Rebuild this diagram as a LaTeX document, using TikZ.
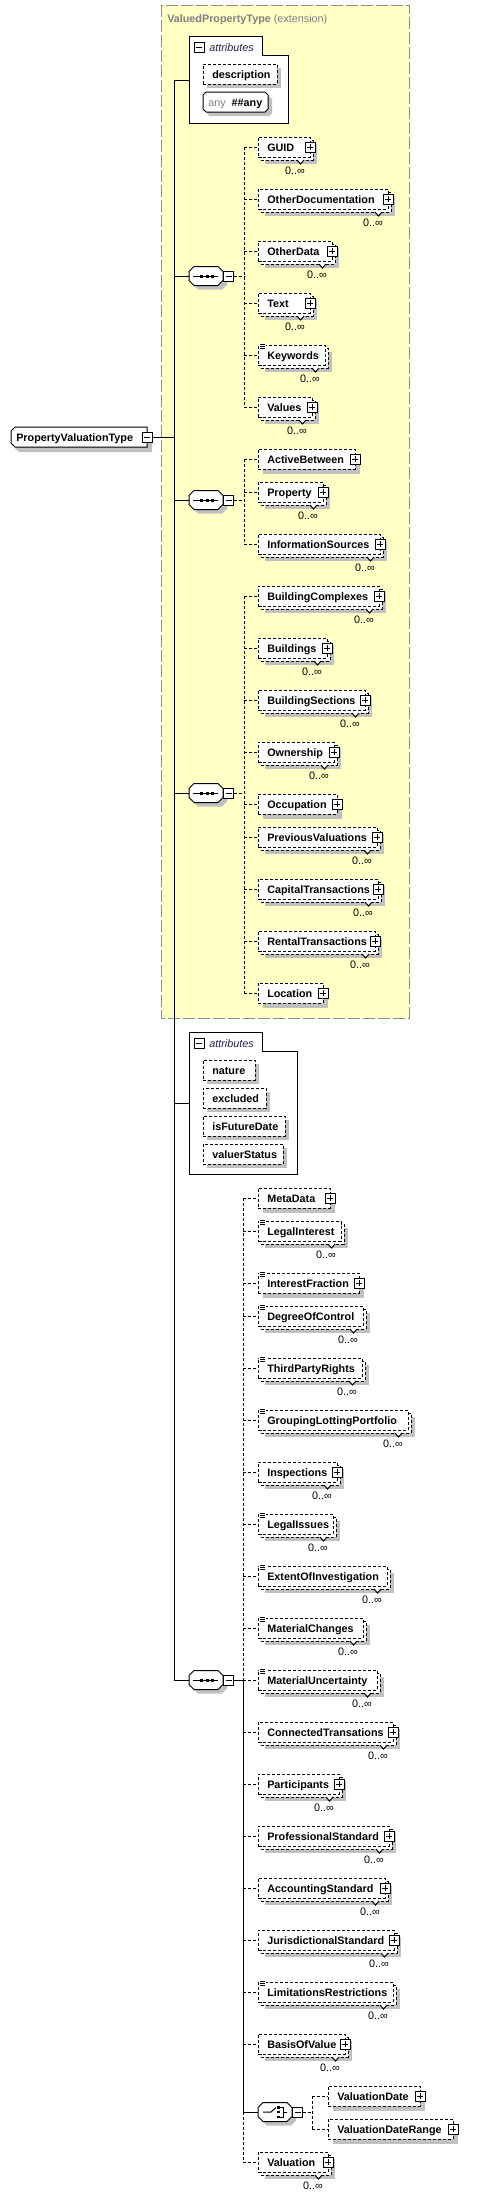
\documentclass[tikz,border=0pt]{standalone}
\usepackage{fontspec}
\setmainfont{Liberation Sans}
\definecolor{shadowc}{HTML}{C0C0C0}
\definecolor{extfill}{HTML}{FFFFC6}
\definecolor{extline}{HTML}{8C8C8C}
\definecolor{greytext}{HTML}{808080}
\definecolor{attrc}{HTML}{202050}
\newcommand\lbl{\fontsize{8.1pt}{9.5pt}\selectfont}
\tikzset{
  thinline/.style={line width=0.75pt},
  dashline/.style={line width=0.75pt, dash pattern=on 2.25pt off 1.5pt},
  elembox/.style={rectangle, draw, dashline, fill=white, inner sep=0pt, outer sep=0pt, minimum height=15pt},
  elemtext/.style={inner sep=0pt, font=\lbl\bfseries, anchor=base west},
  cardtext/.style={inner sep=0pt, font=\lbl, anchor=base east},
  iconbox/.style={rectangle, draw, thinline, fill=white, minimum size=7.5pt, inner sep=0pt, outer sep=0pt},
  hook/.style={inner sep=0pt, outer sep=0pt, draw=none}
}
% octagon path: [style]{x1}{y1}{x2}{y2}{c}
\newcommand\octa[6][]{%
  \path[#1] (#2+#6,#3) -- (#4-#6,#3) -- (#4,#3+#6) -- (#4,#5-#6) -- (#4-#6,#5) -- (#2+#6,#5) -- (#2,#5-#6) -- (#2,#3+#6) -- cycle;}
% left-chamfered box
\newcommand\lcham[6][]{%
  \path[#1] (#2+#6,#3) -- (#4,#3) -- (#4,#5) -- (#2+#6,#5) -- (#2,#5-#6) -- (#2,#3+#6) -- cycle;}
\newcommand\minusicon[3]{%
  \node[iconbox] (#1) at (#2,#3) {};
  \draw[thinline] ([xshift=1.5pt]#1.west) -- ([xshift=-1.5pt]#1.east);}
\newcommand\plusicon[3]{%
  \node[iconbox] (#1) at (#2,#3) {};
  \draw[thinline] ([xshift=1.5pt]#1.west) -- ([xshift=-1.5pt]#1.east);
  \draw[thinline] ([yshift=-1.5pt]#1.north) -- ([yshift=1.5pt]#1.south);}
\newcommand\listicon[2]{%
  \fill[white] (#1-1,#2-2) rectangle (#1+6,#2+4.5);
  \draw[line width=0.5pt] (#1,#2-1) -- +(5,0) (#1,#2+1) -- +(5,0) (#1,#2+3) -- +(5,0);}
% single element: name, text, left, cy, right
\newcommand\elemS[5]{%
  \fill[shadowc] (#3+5,#4-10+5) rectangle (#5+5,#4+10+5);
  \node[elembox, anchor=west, minimum width={(#5-#3)*0.75pt}] (#1) at (#3,#4) {};
  \node[elemtext] at (#3+9,#4+4) {#2};}
% multiple element
\newcommand\elemM[5]{%
  \fill[shadowc] (#3+7,#4-10+7) rectangle (#5+7,#4+10+7);
  \draw[dashline, fill=white] (#3+3,#4-10+3) rectangle (#5+3,#4+10+3);
  \draw[thinline, fill=white] (#5-13,#4+13) -- (#5-9.5,#4+17) -- (#5-6,#4+13);
  \node[elembox, anchor=west, minimum width={(#5-#3)*0.75pt}] (#1) at (#3,#4) {};
  \node[elemtext] at (#3+9,#4+4) {#2};
  \node[cardtext] at (#5-5,#4+27) {0..∞};}
% attribute field: name, text, right, cy
\newcommand\attrfield[4]{%
  \fill[shadowc] (207,#4-10+4) rectangle (#3+4,#4+10+4);
  \node[elembox, anchor=west, minimum width={(#3-203)*0.75pt}] (#1) at (203,#4) {};
  \node[elemtext] at (212,#4+4) {#2};}
% attribute group box: name, top, bottom, right, connection y
\newcommand\attrbox[5]{%
  \draw[thinline, fill=white] (189,#2) -- (262,#2) -- (262,#2+19) -- (#4,#2+19) -- (#4,#3) -- (189,#3) -- cycle;
  \minusicon{#1m}{199}{#2+11}
  \node[anchor=base west, inner sep=0pt, font=\lbl\itshape, text=attrc] at (209,#2+15) {attributes};
  \coordinate (#1) at (189,#5);}
% sequence compositor: name, left, cy
\newcommand\seqblock[3]{%
  \octa[fill=shadowc]{#2+4}{#3-9.5+4}{#2+34+4}{#3+9.5+4}{5}
  \octa[draw, thinline, fill=white]{#2}{#3-9.5}{#2+34}{#3+9.5}{5}
  \node[hook, minimum width=25.5pt, minimum height=14.25pt] (#1) at (#2+17,#3) {};
  \draw[thinline] (#2+4,#3) -- (#2+29,#3);
  \fill (#2+11,#3-1.5) rectangle +(3,3);
  \fill (#2+16.5,#3-1.5) rectangle +(3,3);
  \fill (#2+22,#3-1.5) rectangle +(3,3);
  \minusicon{#1m}{#2+39.5}{#3}}
% choice compositor
\newcommand\choiceblock[3]{%
  \octa[fill=shadowc]{#2+4}{#3-9.5+4}{#2+34+4}{#3+9.5+4}{5}
  \octa[draw, thinline, fill=white]{#2}{#3-9.5}{#2+34}{#3+9.5}{5}
  \node[hook, minimum width=25.5pt, minimum height=14.25pt] (#1) at (#2+17,#3) {};
  \draw[thinline] (#2+5,#3) -- (#2+13,#3) -- (#2+18,#3-4.5);
  \fill (#2+19,#3-6) rectangle +(2.5,2.5);
  \fill (#2+19,#3-1.25) rectangle +(2.5,2.5);
  \fill (#2+19,#3+3.5) rectangle +(2.5,2.5);
  \draw[thinline] (#2+22,#3-5) -- (#2+25,#3-5) -- (#2+25,#3+5) -- (#2+22,#3+5) (#2+25,#3) -- (#2+29,#3);
  \minusicon{#1m}{#2+39.5}{#3}}

\begin{document}
\begin{tikzpicture}[x=0.75pt,y=-0.75pt]
\useasboundingbox (0,0) rectangle (484,2196);
\fill[white] (0,0) rectangle (484,2196);

% extension (base type) region
\draw[extline, fill=extfill, line width=0.75pt, dash pattern=on 9pt off 2.25pt] (161,5) rectangle (409,1018);
\node[anchor=base west, inner sep=0pt, font=\lbl, text=greytext] (title) at (167,22) {\textbf{ValuedPropertyType} (extension)};

% root type
\lcham[fill=shadowc]{15}{432}{152}{452}{4}
\lcham[draw, thinline, fill=white]{11}{427}{147}{447}{4}
\node[hook, minimum width=102pt, minimum height=15pt] (pvt) at (79,437) {};
\node[elemtext] at (16,441) {PropertyValuationType};
\minusicon{pvtm}{147}{437}

% trunk
\coordinate (t0) at (174,80);
\coordinate (t1) at (174,1680);
\draw[thinline] (t0) -- (t1);
\draw[thinline] (pvtm.east) -- (pvtm.east -| t0);

% first attribute group
\attrbox{attr1}{36}{123}{288}{80}
\attrfield{aDesc}{description}{277}{74}
\octa[fill=shadowc]{207}{96}{272}{116}{3}
\octa[draw, thinline, fill=white]{203}{92}{268}{112}{3}
\node[hook, minimum width=48.75pt, minimum height=15pt] (aAny) at (235.5,102) {};
\node[anchor=base west, inner sep=0pt, font=\lbl] at (208,106) {\textcolor{greytext}{any}\hspace{4.5pt}\textbf{\#\#any}};
\draw[thinline] (t0) -- (attr1);

% ---------- sequence 1
\seqblock{seq1}{189}{276}
\draw[thinline] (t0 |- seq1) -- (seq1.west);
\elemM{eGuid}{GUID}{258}{147}{310}\plusicon{eGuidp}{310}{147}
\elemM{eOtherDoc}{OtherDocumentation}{258}{199}{388}\plusicon{eOtherDocp}{388}{199}
\elemM{eOtherData}{OtherData}{258}{251}{332}\plusicon{eOtherDatap}{332}{251}
\elemM{eText}{Text}{258}{303}{310}\plusicon{eTextp}{310}{303}
\elemM{eKeywords}{Keywords}{258}{355}{325}\listicon{260}{345}
\elemM{eValues}{Values}{258}{407}{312}\plusicon{eValuesp}{312}{407}
\coordinate (v1) at (244,276);
\draw[dashline] (seq1m.east) -- (v1);
\draw[dashline] (v1 |- eGuid) -- (v1 |- eValues);
\foreach \n in {eGuid,eOtherDoc,eOtherData,eText,eKeywords,eValues}
  \draw[dashline] (v1 |- \n) -- (\n.west);

% ---------- sequence 2
\seqblock{seq2}{189}{500}
\draw[thinline] (t0 |- seq2) -- (seq2.west);
\elemS{eActive}{ActiveBetween}{258}{459}{355}\plusicon{eActivep}{355}{459}
\elemM{eProperty}{Property}{258}{492}{323}\plusicon{ePropertyp}{323}{492}
\elemM{eInfo}{InformationSources}{258}{544}{380}\plusicon{eInfop}{380}{544}
\coordinate (v2) at (244,500);
\draw[dashline] (seq2m.east) -- (v2);
\draw[dashline] (v2 |- eActive) -- (v2 |- eInfo);
\foreach \n in {eActive,eProperty,eInfo}
  \draw[dashline] (v2 |- \n) -- (\n.west);

% ---------- sequence 3
\seqblock{seq3}{189}{793}
\draw[thinline] (t0 |- seq3) -- (seq3.west);
\elemM{eBComplex}{BuildingComplexes}{258}{596}{379}\plusicon{eBComplexp}{379}{596}
\elemM{eBuildings}{Buildings}{258}{648}{327}\plusicon{eBuildingsp}{327}{648}
\elemM{eBSections}{BuildingSections}{258}{700}{365}\plusicon{eBSectionsp}{365}{700}
\elemM{eOwnership}{Ownership}{258}{752}{334}\plusicon{eOwnershipp}{334}{752}
\elemS{eOccupation}{Occupation}{258}{804}{337}\plusicon{eOccupationp}{337}{804}
\elemM{ePrevVal}{PreviousValuations}{258}{837}{377}\plusicon{ePrevValp}{377}{837}
\elemM{eCapTr}{CapitalTransactions}{258}{889}{378}\plusicon{eCapTrp}{378}{889}
\elemM{eRentTr}{RentalTransactions}{258}{941}{375}\plusicon{eRentTrp}{375}{941}
\elemS{eLocation}{Location}{258}{993}{323}\plusicon{eLocationp}{323}{993}
\coordinate (v3) at (244,793);
\draw[dashline] (seq3m.east) -- (v3);
\draw[dashline] (v3 |- eBComplex) -- (v3 |- eLocation);
\foreach \n in {eBComplex,eBuildings,eBSections,eOwnership,eOccupation,ePrevVal,eCapTr,eRentTr,eLocation}
  \draw[dashline] (v3 |- \n) -- (\n.west);

% second attribute group
\attrbox{attr2}{1032}{1174}{297}{1103}
\attrfield{aNature}{nature}{255}{1070}
\attrfield{aExcluded}{excluded}{266}{1098}
\attrfield{aFuture}{isFutureDate}{285}{1126}
\attrfield{aValuer}{valuerStatus}{283}{1154}
\draw[thinline] (t0 |- attr2) -- (attr2);

% ---------- sequence 4
\seqblock{seq4}{189}{1680}
\draw[thinline] (t1) -- (seq4.west);
\elemS{eMeta}{MetaData}{258}{1198}{330}\plusicon{eMetap}{330}{1198}
\elemM{eLegalInt}{LegalInterest}{258}{1231}{341}\listicon{260}{1221}
\elemS{eIntFrac}{InterestFraction}{258}{1283}{359}\listicon{260}{1273}\plusicon{eIntFracp}{359}{1283}
\elemM{eDegree}{DegreeOfControl}{258}{1316}{363}\listicon{260}{1306}
\elemM{eThird}{ThirdPartyRights}{258}{1368}{362}\listicon{260}{1358}
\elemM{eGrouping}{GroupingLottingPortfolio}{258}{1420}{408}\listicon{260}{1410}
\elemM{eInspect}{Inspections}{258}{1472}{337}\plusicon{eInspectp}{337}{1472}
\elemM{eLegalIss}{LegalIssues}{258}{1524}{333}\listicon{260}{1514}
\elemM{eExtent}{ExtentOfInvestigation}{258}{1576}{387}\listicon{260}{1566}
\elemM{eMatCh}{MaterialChanges}{258}{1628}{363}\listicon{260}{1618}
\elemM{eMatUnc}{MaterialUncertainty}{258}{1680}{377}\listicon{260}{1670}
\elemM{eConnTr}{ConnectedTransations}{258}{1732}{393}\plusicon{eConnTrp}{393}{1732}
\elemM{ePartic}{Participants}{258}{1784}{339}\plusicon{eParticp}{339}{1784}
\elemM{eProfStd}{ProfessionalStandard}{258}{1836}{389}\plusicon{eProfStdp}{389}{1836}
\elemM{eAccStd}{AccountingStandard}{258}{1888}{385}\plusicon{eAccStdp}{385}{1888}
\elemM{eJurStd}{JurisdictionalStandard}{258}{1940}{394}\plusicon{eJurStdp}{394}{1940}
\elemM{eLimit}{LimitationsRestrictions}{258}{1992}{393}\listicon{260}{1982}
\elemM{eBasis}{BasisOfValue}{258}{2044}{345}\plusicon{eBasisp}{345}{2044}
\choiceblock{choice}{258}{2112}
\elemS{eValDate}{ValuationDate}{328}{2096}{420}\plusicon{eValDatep}{420}{2096}
\elemS{eValRange}{ValuationDateRange}{328}{2129}{453}\plusicon{eValRangep}{453}{2129}
\elemM{eValuation}{Valuation}{258}{2162}{328}\plusicon{eValuationp}{328}{2162}
\coordinate (v4) at (243,1680);
\draw[thinline] (seq4m.east) -- (v4);
\draw[dashline] (v4 |- eMeta) -- (v4);
\draw[thinline] (v4) -- (v4 |- choice);
\draw[dashline] (v4 |- choice) -- (v4 |- eValuation);
\draw[thinline] (v4 |- choice) -- (choice.west);
\foreach \n in {eMeta,eLegalInt,eIntFrac,eDegree,eThird,eGrouping,eInspect,eLegalIss,eExtent,eMatCh,eMatUnc,eConnTr,ePartic,eProfStd,eAccStd,eJurStd,eLimit,eBasis,eValuation}
  \draw[dashline] (v4 |- \n) -- (\n.west);
\coordinate (v5) at (312,2112);
\draw[dashline] (choicem.east) -- (v5);
\draw[dashline] (v5 |- eValDate) -- (v5 |- eValRange);
\foreach \n in {eValDate,eValRange}
  \draw[dashline] (v5 |- \n) -- (\n.west);
\end{tikzpicture}
\end{document}
